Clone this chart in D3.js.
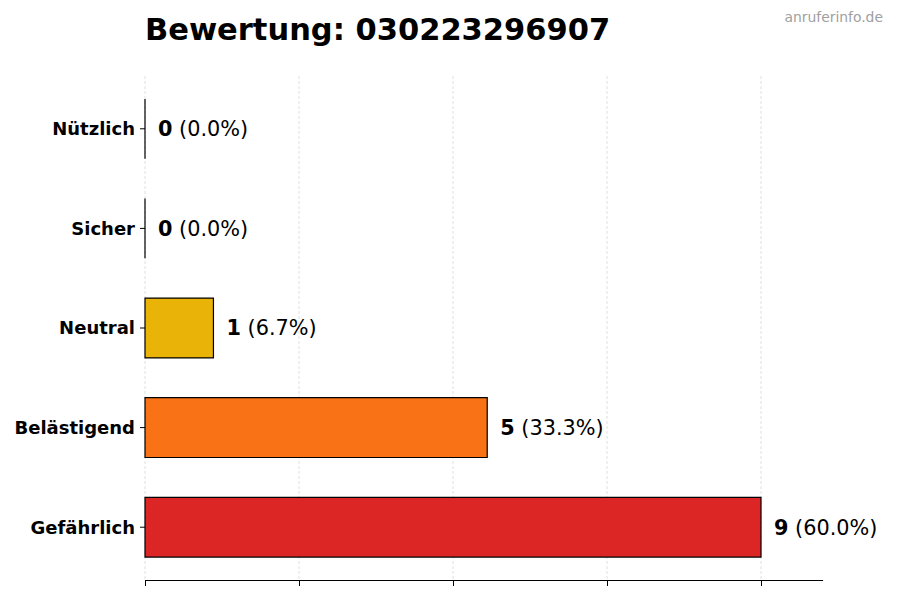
<!DOCTYPE html>
<html>
<head>
<meta charset="utf-8">
<script src="https://cdn.jsdelivr.net/npm/d3@7"></script>
<style>
  body { margin: 0; background: #fff; }
  svg { display: block; font-family: "DejaVu Sans", sans-serif; }
</style>
</head>
<body>
<svg id="chart" width="900" height="600"></svg>
<script>
// Data (top to bottom order as displayed)
const categories = ["Nützlich", "Sicher", "Neutral", "Belästigend", "Gefährlich"];
const counts = [0, 0, 1, 5, 9];
const percents = ["0.0%", "0.0%", "6.7%", "33.3%", "60.0%"];
const colors = ["#3b82f6", "#22c55e", "#eab308", "#f97316", "#dc2626"];
const xTicks = [0, 2.25, 4.5, 6.75, 9];
const titleText = "Bewertung: 030223296907";
const watermark = "anruferinfo.de";

const svg = d3.select("#chart");
const mLeft = 145, mRight = 822.6, mTop = 76, mBottom = 580;
const maxV = d3.max(counts);

const x = d3.scaleLinear().domain([0, maxV * 1.1]).range([mLeft, mRight]);
const y = d3.scaleLinear().domain([-0.53, categories.length - 1 + 0.53]).range([mTop, mBottom]);
const barH = (y(1) - y(0)) * 0.6;

// Grid lines
svg.append("g").selectAll("line").data(xTicks).join("line")
  .attr("x1", d => x(d)).attr("x2", d => x(d))
  .attr("y1", mTop).attr("y2", mBottom)
  .attr("stroke", "#d8d8d8").attr("stroke-width", 0.8)
  .attr("stroke-dasharray", "3,2");

// Bottom axis without labels
const xAxis = d3.axisBottom(x).tickValues(xTicks).tickFormat("").tickSize(6).tickSizeOuter(0);
const gx = svg.append("g").attr("transform", `translate(0,${mBottom})`).call(xAxis);
gx.select(".domain").attr("stroke", "#000").attr("stroke-width", 1.1);
gx.selectAll(".tick line").attr("stroke", "#000").attr("stroke-width", 1);

// Y ticks and labels
const gy = svg.append("g");
categories.forEach((c, i) => {
  gy.append("line").attr("x1", mLeft - 5).attr("x2", mLeft)
    .attr("y1", y(i)).attr("y2", y(i)).attr("stroke", "#000").attr("stroke-width", 1);
  gy.append("text").attr("x", mLeft - 10).attr("y", y(i))
    .attr("dy", "0.36em").attr("text-anchor", "end")
    .attr("font-size", "18px").attr("font-weight", "bold").text(c);
});

// Bars (as paths so zero-width bars still show their edge)
svg.append("g").selectAll("path").data(counts).join("path")
  .attr("d", (d, i) => {
    const x0 = x(0), x1 = x(d), y0 = y(i) - barH / 2, y1 = y(i) + barH / 2;
    return `M${x0},${y0}H${x1}V${y1}H${x0}Z`;
  })
  .attr("fill", (d, i) => colors[i])
  .attr("stroke", "#000").attr("stroke-width", 1.2);

// Value labels
const lbl = svg.append("g").selectAll("text").data(counts).join("text")
  .attr("x", d => x(d + 0.19))
  .attr("y", (d, i) => y(i))
  .attr("dy", "0.36em")
  .attr("font-size", "20.8px");
lbl.append("tspan").attr("font-weight", "bold").text(d => d);
lbl.append("tspan").text((d, i) => ` (${percents[i]})`);

// Title
svg.append("text").attr("x", mLeft).attr("y", 40)
  .attr("font-size", "30.5px").attr("font-weight", "bold").text(titleText);

// Watermark
svg.append("text").attr("x", 883).attr("y", 22).attr("text-anchor", "end")
  .attr("font-size", "13.9px").attr("fill", "#a0a0a0").text(watermark);
</script>
</body>
</html>
